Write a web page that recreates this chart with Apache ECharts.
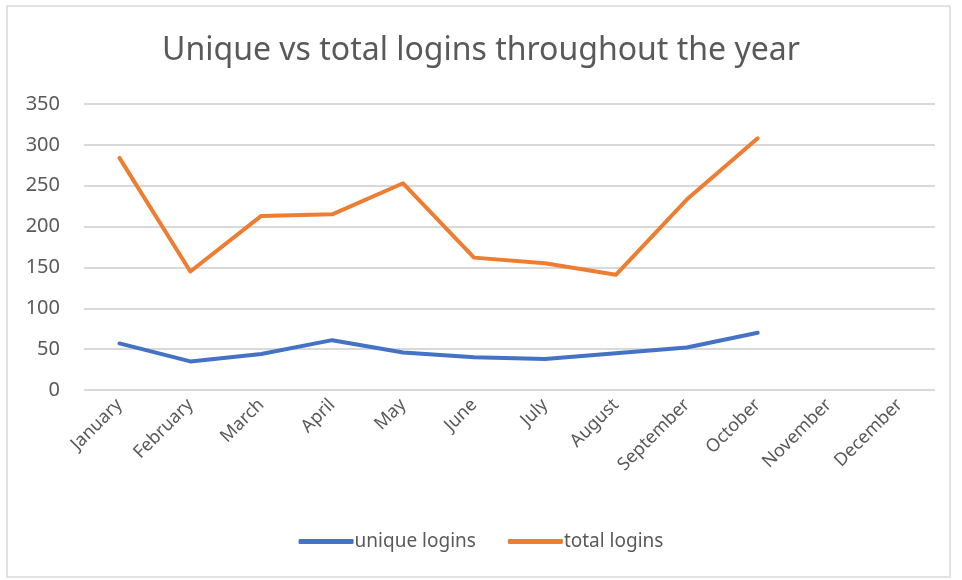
<!DOCTYPE html>
<html>
<head>
<meta charset="utf-8">
<script src="https://cdn.jsdelivr.net/npm/echarts@6/dist/echarts.min.js"></script>
<style>
  html, body { margin: 0; padding: 0; background: #fff; }
  #chart { width: 962px; height: 580px; }
</style>
</head>
<body>
<div id="chart"></div>
<script>
const months = ['January', 'February', 'March', 'April', 'May', 'June', 'July', 'August', 'September', 'October', 'November', 'December'];
const uniqueLogins = [57, 35, 44, 61, 46, 40, 38, 45, 52, 70, null, null];
const totalLogins = [284, 145, 213, 215, 253, 162, 155, 141, 233, 308, null, null];

const textColor = '#595959';
const font = 'Noto Sans';

const chart = echarts.init(document.getElementById('chart'));

const lineStyle = (color) => ({ color: color, width: 4, cap: 'round', join: 'round' });

chart.setOption({
  backgroundColor: '#fff',
  animation: false,
  title: {
    text: 'Unique vs total logins throughout the year',
    left: 'center',
    top: 30,
    textStyle: { color: textColor, fontFamily: font, fontSize: 32, fontWeight: 'normal' }
  },
  graphic: [{
    type: 'rect',
    shape: { x: 7, y: 6, width: 943, height: 571 },
    style: { fill: 'none', stroke: '#d9d9d9', lineWidth: 1.5 },
    silent: true
  }],
  legend: {
    bottom: 24,
    left: 'center',
    itemWidth: 55,
    itemHeight: 5,
    itemGap: 32,
    icon: 'roundRect',
    textStyle: { color: textColor, fontFamily: font, fontSize: 19, padding: [0, 0, 0, -4] },
    data: ['unique logins', 'total logins']
  },
  grid: { left: 84, right: 27, top: 104, bottom: 190 },
  xAxis: {
    type: 'category',
    data: months,
    boundaryGap: true,
    axisLine: { show: false },
    axisTick: { show: false },
    axisLabel: {
      rotate: 45,
      interval: 0,
      margin: 12,
      color: textColor,
      fontFamily: font,
      fontSize: 18
    }
  },
  yAxis: {
    type: 'value',
    min: 0,
    max: 350,
    interval: 50,
    axisLine: { show: false },
    axisTick: { show: false },
    axisLabel: { color: textColor, fontFamily: font, fontSize: 20, margin: 24 },
    splitLine: { lineStyle: { color: '#d9d9d9', width: 2 } }
  },
  series: [
    {
      name: 'unique logins',
      type: 'line',
      data: uniqueLogins,
      symbol: 'none',
      color: '#4472C4',
      lineStyle: lineStyle('#4472C4')
    },
    {
      name: 'total logins',
      type: 'line',
      data: totalLogins,
      symbol: 'none',
      color: '#ED7D31',
      lineStyle: lineStyle('#ED7D31')
    }
  ]
});
</script>
</body>
</html>
